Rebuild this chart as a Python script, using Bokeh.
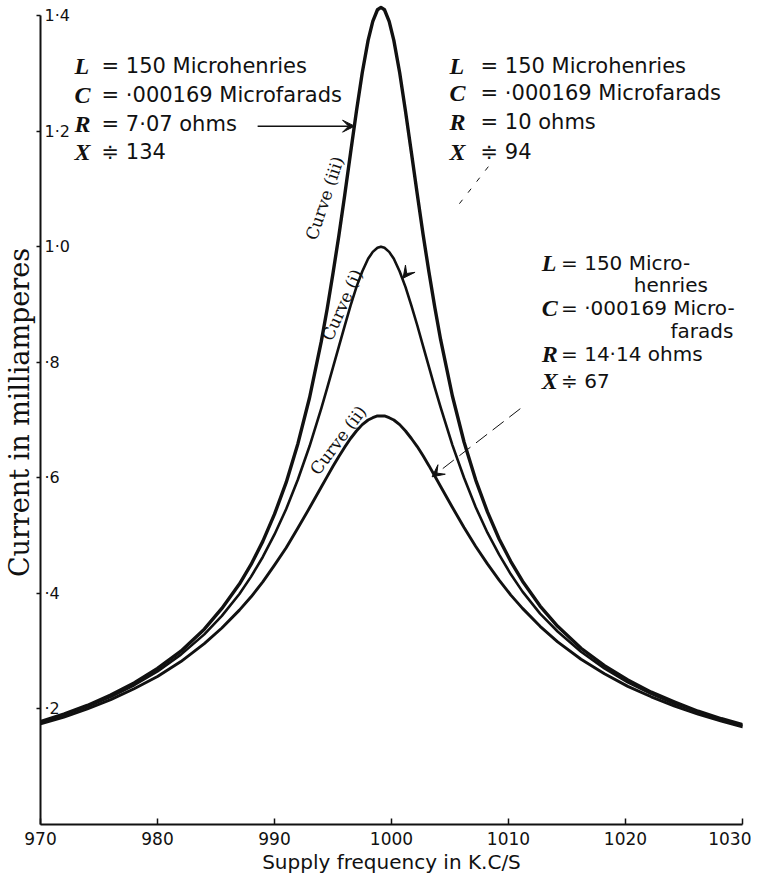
import math
from bokeh.plotting import figure
from bokeh.models import Label, Arrow, VeeHead, FixedTicker
from bokeh.core.properties import value
from bokeh.embed import file_html
from bokeh.resources import INLINE

# ---------------- data ----------------
freq_kcs = [970, 972, 974, 976, 978, 980, 982, 984, 985.5, 987, 988, 989, 990, 991,
            992, 993, 994, 994.5, 995, 995.5, 996, 996.5, 997, 997.5, 998, 998.4,
            998.8, 999.1, 999.4, 999.8, 1000.2, 1000.7, 1001.2, 1001.7, 1002.2,
            1002.7, 1003.2, 1003.7, 1004.2, 1005.2, 1006.2, 1007.2, 1008.2, 1009.2,
            1010.2, 1011.2, 1012.7, 1014.2, 1016.2, 1018.2, 1020.2, 1022.2, 1024.2,
            1026.2, 1028.2, 1030]
# Curve (iii): R = 7.07 ohms
current_iii = [0.178, 0.191, 0.206, 0.224, 0.245, 0.270, 0.300, 0.338, 0.374, 0.416,
               0.450, 0.490, 0.537, 0.592, 0.659, 0.739, 0.836, 0.892, 0.954, 1.019,
               1.089, 1.162, 1.234, 1.301, 1.357, 1.390, 1.410, 1.414, 1.410, 1.390,
               1.357, 1.301, 1.234, 1.163, 1.091, 1.021, 0.956, 0.895, 0.839, 0.742,
               0.662, 0.596, 0.541, 0.494, 0.455, 0.421, 0.378, 0.343, 0.305, 0.275,
               0.250, 0.229, 0.212, 0.196, 0.183, 0.173]
# Curve (i): R = 10 ohms
current_i = [0.177, 0.190, 0.204, 0.221, 0.241, 0.265, 0.294, 0.329, 0.361, 0.399,
             0.429, 0.463, 0.502, 0.546, 0.597, 0.655, 0.720, 0.755, 0.791, 0.827,
             0.863, 0.898, 0.930, 0.957, 0.979, 0.991, 0.998, 1.000, 0.998, 0.991,
             0.979, 0.957, 0.930, 0.898, 0.864, 0.828, 0.792, 0.756, 0.722, 0.657,
             0.600, 0.549, 0.505, 0.467, 0.433, 0.403, 0.365, 0.334, 0.299, 0.270,
             0.246, 0.226, 0.209, 0.195, 0.182, 0.172]
# Curve (ii): R = 14.14 ohms
current_ii = [0.174, 0.186, 0.200, 0.216, 0.235, 0.256, 0.282, 0.313, 0.340, 0.371,
              0.394, 0.420, 0.449, 0.479, 0.513, 0.548, 0.584, 0.602, 0.620, 0.637,
              0.653, 0.668, 0.681, 0.692, 0.700, 0.704, 0.707, 0.707, 0.707, 0.704,
              0.700, 0.692, 0.681, 0.668, 0.654, 0.638, 0.621, 0.603, 0.585, 0.549,
              0.514, 0.481, 0.451, 0.423, 0.397, 0.374, 0.343, 0.316, 0.286, 0.261,
              0.239, 0.221, 0.205, 0.191, 0.179, 0.169]

x_ticks = [970, 980, 990, 1000, 1010, 1020, 1030]
y_ticks = [0.2, 0.4, 0.6, 0.8, 1.0, 1.2, 1.4]
y_tick_labels = ["·2", "·4", "·6", "·8", "1·0", "1·2", "1·4"]

x_title = "Supply frequency in K.C/S"
y_title = "Current in milliamperes"

block_letters = ["L", "C", "R", "X"]
block1_text = ["= 150 Microhenries", "= ·000169 Microfarads", "= 7·07 ohms", "≑ 134"]
block2_text = ["= 150 Microhenries", "= ·000169 Microfarads", "= 10 ohms", "≑ 94"]
block3_text = ["= 150 Micro-", "= ·000169 Micro-", "= 14·14 ohms", "≑ 67"]
curve_names = ["Curve (iii)", "Curve (i)", "Curve (ii)"]

# ---------------- figure ----------------
p = figure(width=751, height=876, output_backend="svg", toolbar_location=None,
           x_range=(970, 1030), y_range=(0, 1.426),
           min_border_left=38, min_border_right=9, min_border_top=0,
           min_border_bottom=48)
p.outline_line_color = None
p.grid.visible = False
p.background_fill_color = "white"
p.border_fill_color = "white"

INK = "#111111"

# x axis
p.xaxis.ticker = FixedTicker(ticks=x_ticks)
p.xaxis.major_tick_in = 6
p.xaxis.major_tick_out = 0
p.xaxis.minor_tick_line_color = None
p.xaxis.axis_line_width = 2
p.xaxis.axis_line_color = INK
p.xaxis.major_tick_line_color = INK
p.xaxis.major_tick_line_width = 1.5
p.xaxis.major_label_standoff = 7
p.xaxis.major_label_text_font = "DejaVu Sans"
p.xaxis.major_label_text_font_size = "17px"
p.xaxis.major_label_text_color = INK
p.xaxis.axis_label = x_title
p.xaxis.axis_label_text_font = "DejaVu Sans"
p.xaxis.axis_label_text_font_size = "20px"
p.xaxis.axis_label_text_font_style = "normal"
p.xaxis.axis_label_text_color = INK
p.xaxis.axis_label_standoff = 2

# y axis (its tick labels are drawn inside the frame, see below)
p.yaxis.ticker = FixedTicker(ticks=y_ticks)
p.yaxis.bounds = (0, 1.4)
p.yaxis.major_tick_in = 0
p.yaxis.major_tick_out = 4
p.yaxis.minor_tick_line_color = None
p.yaxis.axis_line_width = 2
p.yaxis.axis_line_color = INK
p.yaxis.major_tick_line_color = INK
p.yaxis.major_tick_line_width = 1.5
p.yaxis.major_label_text_color = None
p.yaxis.major_label_text_font_size = "0px"
p.yaxis.major_label_standoff = 0
p.yaxis.axis_label = y_title
p.yaxis.axis_label_text_font = "DejaVu Serif"
p.yaxis.axis_label_text_font_size = "27px"
p.yaxis.axis_label_text_font_style = "normal"
p.yaxis.axis_label_text_color = INK
p.yaxis.axis_label_standoff = 2

p.text(x=[x_ticks[0]] * len(y_ticks), y=y_ticks, text=y_tick_labels,
       x_offset=4, text_font=value("DejaVu Sans"), text_font_size=value("16px"),
       text_align="left", text_baseline="middle", text_color=INK)

# curves
p.line(freq_kcs, current_iii, line_width=3.4, line_color=INK, line_join="round", line_cap="round")
p.line(freq_kcs, current_i, line_width=2.6, line_color=INK, line_join="round", line_cap="round")
p.line(freq_kcs, current_ii, line_width=2.9, line_color=INK, line_join="round", line_cap="round")


# helpers: reference-picture pixel position -> data position (annotations only)
def rx(px):
    return 970 + (px - 38) / 12.07


def ry(py):
    return (834 - py) / 585


def add_text(px, py, text, font="DejaVu Sans", size="21px", style="normal",
             angle=0.0, align="left"):
    p.add_layout(Label(x=rx(px), y=ry(py), text=text, text_font=font,
                       text_font_size=size, text_font_style=style,
                       text_align=align, text_baseline="middle", angle=angle,
                       text_color=INK))


def add_block(lx, tx, rows, texts, size="21px"):
    for letter, txt, yy in zip(block_letters, texts, rows):
        add_text(lx, yy, letter, font="Liberation Serif", size="24px", style="bold italic")
        add_text(tx, yy, txt, size=size)


add_block(73, 101, [66, 95, 125, 153], block1_text)
add_block(460, 492, [66, 93, 123, 153], block2_text)
add_block(555, 575, [266, 311, 358, 385], block3_text, size="20px")
add_text(650, 288, "henries", size="20px")
add_text(688, 334, "farads", size="20px")

# curve labels
add_text(331, 200, curve_names[0], font="DejaVu Serif", size="17px",
         angle=math.radians(71.5), align="center")
add_text(349, 308, curve_names[1], font="DejaVu Serif", size="17px",
         angle=math.radians(66), align="center")
add_text(345, 445, curve_names[2], font="DejaVu Serif", size="17px",
         angle=math.radians(53), align="center")

# arrow from block 1 to curve (iii)
p.add_layout(Arrow(x_start=rx(262), y_start=ry(127), x_end=rx(362), y_end=ry(127),
                   line_width=1.5, line_color=INK,
                   end=VeeHead(size=12, fill_color=INK, line_color=INK)))
# dotted leader from block 2 towards curve (i)
p.add_layout(Arrow(x_start=rx(500), y_start=ry(168), x_end=rx(465), y_end=ry(212),
                   line_width=1, line_color=INK, line_dash="5 9", end=None))
p.add_layout(Arrow(x_start=rx(422), y_start=ry(268), x_end=rx(412), y_end=ry(281),
                   line_width=1, line_color=INK, line_alpha=0.0,
                   end=VeeHead(size=12, fill_color=INK, line_color=INK)))
# dashed leader from block 3 to curve (ii)
p.add_layout(Arrow(x_start=rx(533), y_start=ry(413), x_end=rx(442), y_end=ry(482),
                   line_width=1, line_color=INK, line_dash="14 7",
                   end=VeeHead(size=12, fill_color=INK, line_color=INK, line_dash="solid")))

open("out.html", "w").write(file_html(p, INLINE))
